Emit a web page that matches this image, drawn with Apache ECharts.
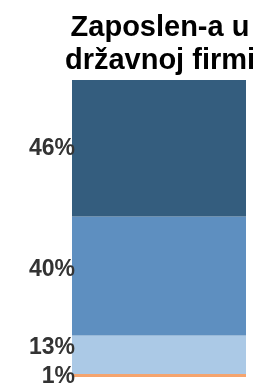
<!DOCTYPE html>
<html>
<head>
<meta charset="utf-8">
<script src="https://cdn.jsdelivr.net/npm/echarts@6/dist/echarts.min.js"></script>
<style>html,body{margin:0;padding:0;background:#fff}#c{width:256px;height:390px}</style>
</head>
<body>
<div id="c"></div>
<script>
var categories = ['Zaposlen-a u državnoj firmi'];
var seriesNames = ['s1', 's2', 's3', 's4'];
var valuesOrange = [1];
var valuesLight = [13];
var valuesMedium = [40];
var valuesDark = [46];
var colors = ['#F5A46E', '#ABC9E6', '#5E8FC0', '#345D7E'];
var labelOffsets = [[0, 1], [0, -7], [0, -6], [0, 0]];
var allValues = [valuesOrange, valuesLight, valuesMedium, valuesDark];

var chart = echarts.init(document.getElementById('c'), null, {renderer: 'canvas'});
var series = allValues.map(function (vals, i) {
  return {
    name: seriesNames[i],
    type: 'bar',
    stack: 'total',
    barWidth: '100%',
    data: vals,
    itemStyle: {color: colors[i]},
    label: {
      show: true,
      position: 'left',
      distance: -3,
      offset: labelOffsets[i],
      formatter: '{c}%',
      fontFamily: 'Liberation Sans',
      fontWeight: 'bold',
      fontSize: 23,
      color: '#333333'
    }
  };
});
chart.setOption({
  animation: false,
  title: {
    text: 'Zaposlen-a u\ndržavnoj firmi',
    left: 155,
    top: 6,
    textAlign: 'center',
    textStyle: {fontFamily: 'Liberation Sans', fontWeight: 'bold', fontSize: 29, lineHeight: 33, color: '#000'}
  },
  grid: {left: 72, right: 10, top: 80, bottom: 13, containLabel: false},
  xAxis: {type: 'category', data: categories, show: false},
  yAxis: {type: 'value', min: 0, max: 100, show: false},
  series: series
});
</script>
</body>
</html>
